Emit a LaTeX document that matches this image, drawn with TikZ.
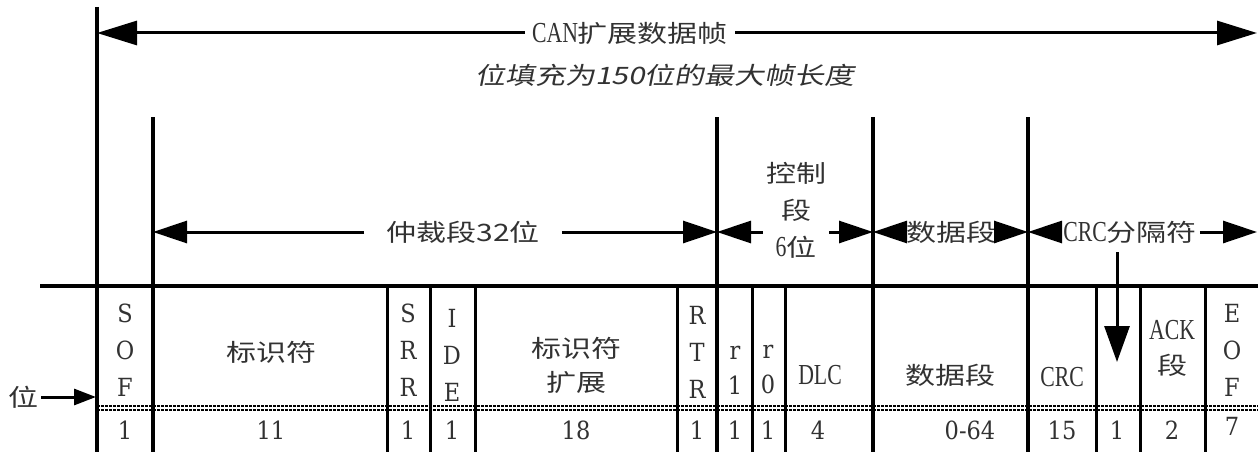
\documentclass[tikz,border=0pt]{standalone}
\usepackage{fontspec}
\setmainfont[FakeStretch=0.75]{Liberation Serif}
\newfontfamily\cjkfont[FakeStretch=1.25]{Noto Sans CJK SC}
\newfontfamily\cjkitfont[FakeStretch=1.25,FakeSlant=0.2]{Noto Sans CJK SC}
\newfontfamily\slabfont[FakeStretch=0.9]{DejaVu Serif}
\usetikzlibrary{arrows.meta}
\definecolor{txt}{RGB}{50,50,50}
\newcommand\zhs[1]{{\cjkfont\fontsize{24}{30}\selectfont #1}}
\tikzset{
  frame/.style={line width=3.5pt},
  cell/.style={line width=3pt},
  bigarrow/.style={line width=3pt,-{Triangle[length=40pt,width=24pt]}},
  midarrow/.style={line width=3pt,-{Triangle[length=34pt,width=22pt]}},
  smallarrow/.style={line width=3pt,-{Triangle[length=22pt,width=16pt]}},
  downarrow/.style={line width=3pt,-{Triangle[length=36pt,width=25pt]}},
  lat/.style={text=txt,inner sep=0pt,align=center,font=\fontsize{29}{37}\selectfont},
  slab/.style={text=txt,inner sep=0pt,align=center,font=\slabfont\fontsize{25}{37}\selectfont},
  zh/.style={text=txt,inner sep=0pt,align=center,font=\cjkfont\fontsize{24}{37}\selectfont},
  zhit/.style={text=txt,inner sep=0pt,font=\cjkitfont\fontsize{24}{30}\selectfont},
  dots/.style={line width=2.6pt,dash pattern=on 3pt off 1pt}
}
\begin{document}
\begin{tikzpicture}[x=1pt,y=-1pt]
\useasboundingbox (0,0) rectangle (1258,452);
% --- coordinates
\coordinate (L0) at (97,33);
\coordinate (R0) at (1257,33);
\coordinate (a1) at (153,232);
\coordinate (a2) at (717,232);
\coordinate (a3) at (873,232);
\coordinate (a4) at (1028,232);
\coordinate (a5) at (1257,232);
\coordinate (d0) at (1117,252);
\coordinate (d1) at (1117,362);
\coordinate (p97) at (96,397);
% --- frame lines
\draw[frame] (97,7) -- (97,452);
\foreach \x in {153,717,873,1028} \draw[frame] (\x,117) -- (\x,452);
\draw[frame] (40,286) -- (1258,286);
\foreach \x in {387,430,475,677,752,785,1096,1140,1205} \draw[cell] (\x,286) -- (\x,452);
\draw[dots] (97,406) -- (1258,406);
\draw[dots] (97,410) -- (1258,410);
% --- title
\node[lat,inner xsep=7pt] (title) at (630,33) {CAN\zhs{扩展数据帧}};
\draw[bigarrow] (title.west) -- (L0);
\draw[bigarrow] (title.east) -- (R0);
\node[zhit] (sub) at (665,75) {位填充为150位的最大帧长度};
% --- field arrows
\node[zh,inner xsep=22pt] (arb) at (463,232) {仲裁段32位};
\draw[midarrow] (arb.west) -- (a1);
\draw[midarrow] (arb.east) -- (a2);
\node[lat,inner xsep=3pt] (ctl) at (796,210) {\zhs{控制}\\\zhs{段}\\6\zhs{位}};
\draw[midarrow] (ctl.west |- a2) -- (a2);
\draw[midarrow] (ctl.east |- a3) -- (a3);
\node[zh,inner xsep=1pt] (dat) at (951,232) {数据段};
\draw[midarrow] (dat.west) -- (a3);
\draw[midarrow] (dat.east) -- (a4);
\node[lat,inner xsep=3pt] (crcd) at (1130,232) {CRC\zhs{分隔符}};
\draw[midarrow] (crcd.west) -- (a4);
\draw[midarrow] (crcd.east) -- (a5);
\draw[downarrow] (d0) -- (d1);
% --- bit arrow
\node[zh,inner xsep=2pt] (wei) at (24,397) {位};
\draw[smallarrow] (wei.east) -- (p97);
% --- cell labels
\node[slab] (sof) at (125,350) {S\\O\\F};
\node[zh] (id) at (271,352) {标识符};
\node[slab] (srr) at (408,350) {S\\R\\R};
\node[slab] (ide) at (452,355) {I\\D\\E};
\node[zh,font=\cjkfont\fontsize{24}{34}\selectfont] (idx) at (576,365) {标识符\\扩展};
\node[slab] (rtr) at (697,352) {R\\T\\R};
\node[slab,font=\slabfont\fontsize{25}{35}\selectfont] (r1) at (735,370) {r\\1};
\node[slab,font=\slabfont\fontsize{25}{35}\selectfont] (r0) at (768,370) {r\\0};
\node[lat] (dlc) at (820,375) {DLC};
\node[zh] (dseg) at (950,375) {数据段};
\node[lat] (crc) at (1062,377) {CRC};
\node[lat,font=\fontsize{29}{35}\selectfont] (ack) at (1172,348) {ACK\\\zhs{段}};
\node[slab] (eof) at (1232,350) {E\\O\\F};
% --- bit counts
\node[slab] (n1) at (125,430) {1};
\node[slab] (n2) at (271,430) {11};
\node[slab] (n3) at (408,430) {1};
\node[slab] (n4) at (452,430) {1};
\node[slab] (n5) at (576,430) {18};
\node[slab] (n6) at (697,430) {1};
\node[slab] (n7) at (735,430) {1};
\node[slab] (n8) at (768,430) {1};
\node[slab] (n9) at (818,430) {4};
\node[slab] (n10) at (970,430) {0-64};
\node[slab] (n11) at (1062,430) {15};
\node[slab] (n12) at (1117,430) {1};
\node[slab] (n13) at (1172,430) {2};
\node[slab] (n14) at (1232,426) {7};
\end{tikzpicture}
\end{document}
